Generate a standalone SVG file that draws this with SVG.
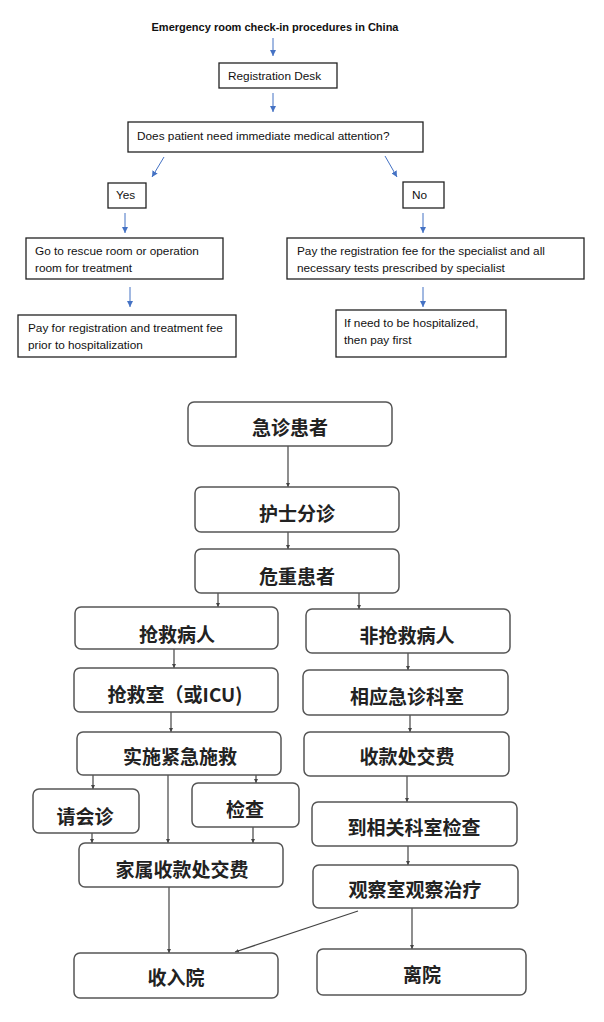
<svg xmlns="http://www.w3.org/2000/svg" width="604" height="1022" viewBox="0 0 604 1022">
<style>
.en{font-family:"Liberation Sans",Arial,sans-serif;font-size:11.8px;fill:#111}
.ttl{font-family:"Liberation Sans",Arial,sans-serif;font-size:11px;font-weight:bold;fill:#111}
.box{fill:#fff;stroke:#222;stroke-width:1.3}
.rbox{fill:#fff;stroke:#555;stroke-width:1.5}
.zh{font-family:"Noto Sans CJK SC","Noto Sans CJK JP",sans-serif;font-size:19px;font-weight:bold;fill:#222;text-anchor:middle}
.ba{stroke:#4472C4;stroke-width:1;fill:none;marker-end:url(#blue)}
.ga{stroke:#444;stroke-width:1.2;fill:none;marker-end:url(#gray)}
</style>
<defs>
<marker id="blue" viewBox="0 0 10 10" refX="10" refY="5" markerWidth="6" markerHeight="6" markerUnits="userSpaceOnUse" orient="auto"><path d="M0,0 L10,5 L0,10 z" fill="#4472C4"/></marker>
<marker id="gray" viewBox="0 0 10 10" refX="10" refY="5" markerWidth="4" markerHeight="4" markerUnits="userSpaceOnUse" orient="auto"><path d="M0,0 L10,5 L0,10 z" fill="#444"/></marker>
</defs>
<rect width="604" height="1022" fill="#fff"/>
<text id="title" class="ttl" x="275" y="31" text-anchor="middle">Emergency room check-in procedures in China</text>
<g id="connectors">
<line class="ba" x1="273" y1="38" x2="273" y2="56"/>
<line class="ba" x1="273" y1="93" x2="273" y2="112"/>
<line class="ba" x1="164" y1="157" x2="152" y2="177"/>
<line class="ba" x1="385" y1="156" x2="397" y2="177"/>
<line class="ba" x1="125" y1="213" x2="125" y2="233"/>
<line class="ba" x1="423" y1="213" x2="423" y2="233"/>
<line class="ba" x1="130" y1="287" x2="130" y2="307"/>
<line class="ba" x1="423" y1="287" x2="423" y2="307"/>
<line class="ga" x1="288" y1="446" x2="288" y2="487"/>
<line class="ga" x1="288" y1="532" x2="288" y2="549"/>
<line class="ga" x1="218" y1="593" x2="218" y2="607"/>
<line class="ga" x1="359" y1="593" x2="359" y2="609"/>
<line class="ga" x1="174" y1="649" x2="174" y2="668"/>
<line class="ga" x1="408" y1="653" x2="408" y2="670"/>
<line class="ga" x1="171" y1="712" x2="171" y2="732"/>
<line class="ga" x1="410" y1="715" x2="410" y2="732"/>
<line class="ga" x1="93" y1="775" x2="93" y2="789"/>
<line class="ga" x1="168" y1="775" x2="168" y2="843"/>
<line class="ga" x1="256" y1="775" x2="256" y2="783"/>
<line class="ga" x1="92" y1="833" x2="92" y2="843"/>
<line class="ga" x1="253" y1="827" x2="253" y2="843"/>
<line class="ga" x1="169" y1="887" x2="169" y2="953"/>
<line class="ga" x1="407" y1="776" x2="407" y2="802"/>
<line class="ga" x1="408" y1="846" x2="408" y2="865"/>
<line class="ga" x1="412" y1="908" x2="412" y2="949"/>
<line class="ga" x1="358" y1="911" x2="235" y2="952"/>
</g>
<g id="reg"><rect class="box" x="219" y="63" width="118" height="25"/><text class="en" x="228" y="80">Registration Desk</text></g>
<g id="question"><rect class="box" x="128" y="122" width="295" height="30"/><text class="en" x="137" y="140">Does patient need immediate medical attention?</text></g>
<g id="yes"><rect class="box" x="108" y="183" width="38" height="25"/><text class="en" x="116" y="199">Yes</text></g>
<g id="no"><rect class="box" x="403" y="182" width="41" height="26"/><text class="en" x="412" y="199">No</text></g>
<g id="rescue"><rect class="box" x="26" y="238" width="197" height="41"/><text class="en" x="35" y="255">Go to rescue room or operation</text><text class="en" x="35" y="272">room for treatment</text></g>
<g id="payfee"><rect class="box" x="287" y="238" width="297" height="41"/><text class="en" x="297" y="255">Pay the registration fee for the specialist and all</text><text class="en" x="297" y="272">necessary tests prescribed by specialist</text></g>
<g id="payreg"><rect class="box" x="18" y="315" width="218" height="42"/><text class="en" x="28" y="332">Pay for registration and treatment fee</text><text class="en" x="28" y="349">prior to hospitalization</text></g>
<g id="hosp"><rect class="box" x="336" y="310" width="170" height="47"/><text class="en" x="344" y="327">If need to be hospitalized,</text><text class="en" x="344" y="344">then pay first</text></g>
<g id="n1"><rect class="rbox" x="188" y="402" width="204" height="44" rx="6"/><text class="zh" x="290" y="435">急诊患者</text></g>
<g id="n2"><rect class="rbox" x="195" y="487" width="204" height="45" rx="6"/><text class="zh" x="297" y="521">护士分诊</text></g>
<g id="n3"><rect class="rbox" x="195" y="549" width="204" height="44" rx="6"/><text class="zh" x="297" y="584">危重患者</text></g>
<g id="n4"><rect class="rbox" x="75" y="607" width="203" height="42" rx="6"/><text class="zh" x="177" y="642">抢救病人</text></g>
<g id="n5"><rect class="rbox" x="306" y="609" width="204" height="44" rx="6"/><text class="zh" x="407" y="643">非抢救病人</text></g>
<g id="n6"><rect class="rbox" x="74" y="668" width="204" height="44" rx="6"/><text class="zh" x="175" y="702">抢救室（或ICU)</text></g>
<g id="n7"><rect class="rbox" x="303" y="670" width="205" height="45" rx="6"/><text class="zh" x="407" y="704">相应急诊科室</text></g>
<g id="n8"><rect class="rbox" x="77" y="732" width="204" height="43" rx="6"/><text class="zh" x="180" y="764">实施紧急施救</text></g>
<g id="n9"><rect class="rbox" x="304" y="732" width="205" height="44" rx="6"/><text class="zh" x="407" y="764">收款处交费</text></g>
<g id="n10"><rect class="rbox" x="33" y="789" width="106" height="44" rx="6"/><text class="zh" x="85" y="824">请会诊</text></g>
<g id="n11"><rect class="rbox" x="192" y="783" width="107" height="44" rx="6"/><text class="zh" x="245" y="817">检查</text></g>
<g id="n12"><rect class="rbox" x="312" y="802" width="205" height="44" rx="6"/><text class="zh" x="414" y="835">到相关科室检查</text></g>
<g id="n13"><rect class="rbox" x="79" y="843" width="204" height="44" rx="6"/><text class="zh" x="182" y="877">家属收款处交费</text></g>
<g id="n14"><rect class="rbox" x="313" y="865" width="205" height="43" rx="6"/><text class="zh" x="415" y="897">观察室观察治疗</text></g>
<g id="n15"><rect class="rbox" x="74" y="953" width="204" height="45" rx="6"/><text class="zh" x="176" y="985">收入院</text></g>
<g id="n16"><rect class="rbox" x="317" y="949" width="209" height="46" rx="6"/><text class="zh" x="422" y="982">离院</text></g>
</svg>
